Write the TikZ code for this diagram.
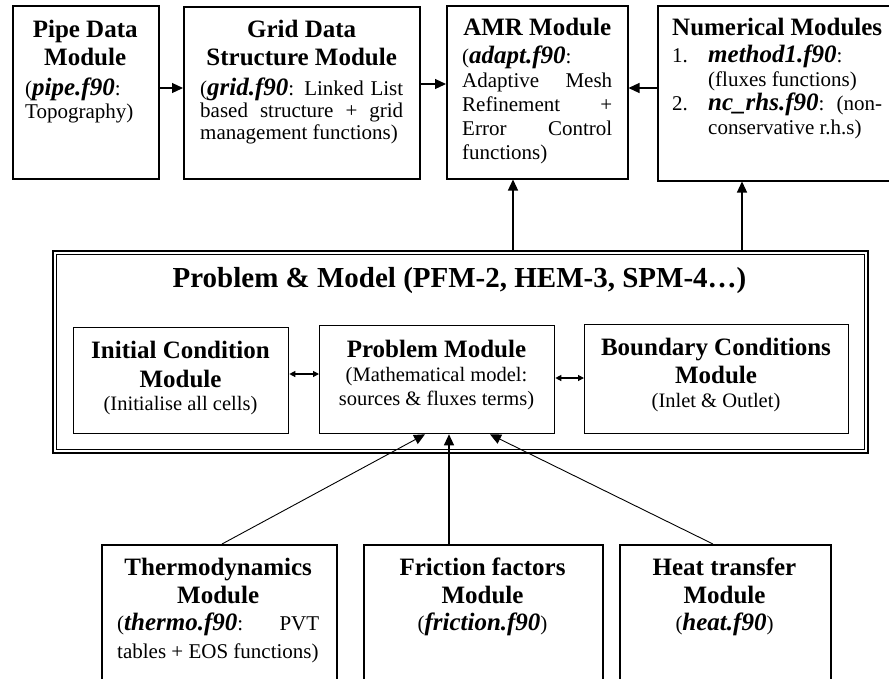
\documentclass[tikz,border=0pt]{standalone}
\usepackage{fontspec}
\setmainfont{Liberation Serif}
\usetikzlibrary{arrows.meta}

% font helpers
\newcommand\hdf{\fontsize{25}{24}\selectfont\bfseries}
\newcommand\bdf{\fontsize{21}{24}\selectfont}
\newcommand\sbf{\fontsize{20.5}{24}\selectfont}
\newcommand\fname[1]{{\fontsize{25}{24}\selectfont\bfseries\itshape #1}}
% justified / left-set lines inside a text block
\newcommand\jst[1]{\makebox[\linewidth][s]{#1}}
\newcommand\lft[1]{\makebox[\linewidth][l]{#1}}
\newcommand\blk[2]{\parbox[t]{#1}{\centering\bdf #2}}

\tikzset{
  modbox/.style={draw, line width=1.5pt, inner sep=0pt, anchor=north west},
  inbox/.style={draw, line width=1.3pt, inner sep=0pt, anchor=north west},
  txt/.style={inner sep=0pt, anchor=base},
  txtl/.style={inner sep=0pt, anchor=base west},
  arr/.style={-{Triangle[length=11pt,width=10pt]}, line width=1.2pt},
  darr/.style={line width=1.2pt, {Triangle[length=6pt,width=6pt]}-{Triangle[length=6pt,width=6pt]}},
  thinarr/.style={-{Triangle[length=11pt,width=10pt]}, line width=0.9pt},
}

\begin{document}
\begin{tikzpicture}[x=1pt,y=-1pt]
\useasboundingbox (0,0) rectangle (889,678);

% ---------- top row ----------
\node[modbox, minimum width=146pt, minimum height=173pt] (pipe) at (12,5) {};
\node[modbox, minimum width=236pt, minimum height=172pt] (grid) at (183,6) {};
\node[modbox, minimum width=181pt, minimum height=173pt] (amr) at (446,5) {};
\node[modbox, minimum width=240pt, minimum height=175pt] (num) at (657,5) {};

\node[txtl] (pipe-t) at (25,37) {\blk{120pt}{{\hdf Pipe Data}\\[4pt]{\hdf Module}\\[6pt]\lft{(\fname{pipe.f90}:}\\[-1pt]\lft{Topography)}}};
\node[txtl] (grid-t) at (200,37) {\blk{203pt}{{\hdf Grid Data}\\[4pt]{\hdf Structure Module}\\[6pt]\jst{(\fname{grid.f90}: Linked List}\\[-2pt]\jst{based structure + grid}\\[-2pt]\lft{management functions)}}};
\node[txtl] (amr-t) at (462,35) {\blk{150pt}{{\hdf AMR Module}\\[4pt]\lft{(\fname{adapt.f90}:}\\\jst{Adaptive Mesh}\\\jst{Refinement +}\\\jst{Error Control}\\\lft{functions)}}};
\node[txtl] (num-t) at (672,35) {\blk{210pt}{{\hdf Numerical Modules}\\[3pt]\lft{\makebox[36pt][l]{1.}\fname{method1.f90}:}\\\lft{\hspace*{36pt}(fluxes functions)}\\\jst{\makebox[36pt][l]{2.}\fname{nc\_rhs.f90}: (non-}\\\lft{\hspace*{36pt}conservative r.h.s)}}};

% ---------- problem & model frame ----------
\node[draw, line width=2pt, inner sep=0pt, anchor=north west, minimum width=815pt, minimum height=202pt] (frame) at (52,250) {};
\draw[line width=1pt] ([shift={(4.5,4.5)}]frame.north west) rectangle ([shift={(-4.5,-4.5)}]frame.south east);
\node[txt] (title) at (459.5,287) {\fontsize{29}{30}\selectfont\bfseries Problem \& Model (PFM-2, HEM-3, SPM-4…)};

\node[inbox, minimum width=215pt, minimum height=106pt] (ic) at (73,327) {};
\node[inbox, minimum width=235pt, minimum height=108pt] (prob) at (319,325) {};
\node[inbox, minimum width=264pt, minimum height=109pt] (bc) at (584,324) {};

\node[txt] (ic-t) at (180.5,358) {\blk{210pt}{{\hdf Initial Condition}\\[5pt]{\hdf Module}\\[-1pt]\sbf(Initialise all cells)}};
\node[txt] (prob-t) at (436.5,357) {\blk{230pt}{{\hdf Problem Module}\\\sbf(Mathematical model:\\sources \& fluxes terms)}};
\node[txt] (bc-t) at (716,355) {\blk{260pt}{{\hdf Boundary Conditions}\\[4pt]{\hdf Module}\\\sbf(Inlet \& Outlet)}};

% ---------- bottom row ----------
\node[modbox, minimum width=235pt, minimum height=150pt] (thermo) at (101,544) {};
\node[modbox, minimum width=239pt, minimum height=150pt] (fric) at (363,544) {};
\node[modbox, minimum width=211pt, minimum height=150pt] (heat) at (619,544) {};

\node[txtl] (thermo-t) at (117,575) {\blk{202pt}{{\hdf Thermodynamics}\\[4pt]{\hdf Module}\\[3pt]\jst{(\fname{thermo.f90}: PVT}\\[4pt]\lft{tables + EOS functions)}}};
\node[txt] (fric-t) at (482.5,575) {\blk{230pt}{{\hdf Friction factors}\\[4pt]{\hdf Module}\\[3pt](\fname{friction.f90})}};
\node[txt] (heat-t) at (724.5,575) {\blk{205pt}{{\hdf Heat transfer}\\[4pt]{\hdf Module}\\[3pt](\fname{heat.f90})}};

% ---------- connectors ----------
\coordinate (r1) at (0,88);
\coordinate (r2) at (0,84);
\coordinate (r3) at (0,88);
\draw[arr] (pipe.east |- r1) -- (grid.west |- r1);
\draw[arr] (grid.east |- r2) -- (amr.west |- r2);
\draw[arr] (num.west |- r3) -- (amr.east |- r3);

\coordinate (v1) at (513,0);
\coordinate (v2) at (742,0);
\draw[arr] (frame.north -| v1) -- (amr.south -| v1);
\draw[arr] (frame.north -| v2) -- (num.south -| v2);

\coordinate (d1) at (0,374);
\coordinate (d2) at (0,378);
\draw[darr] (ic.east |- d1) -- (prob.west |- d1);
\draw[darr] (prob.east |- d2) -- (bc.west |- d2);

\coordinate (b1) at (222,0);
\coordinate (b1t) at (425,0);
\coordinate (b2) at (449,0);
\coordinate (b3) at (713,0);
\coordinate (b3t) at (490,0);
\draw[thinarr] (thermo.north -| b1) -- (prob.south -| b1t);
\draw[arr] (fric.north -| b2) -- (prob.south -| b2);
\draw[thinarr] (heat.north -| b3) -- (prob.south -| b3t);
\end{tikzpicture}
\end{document}
